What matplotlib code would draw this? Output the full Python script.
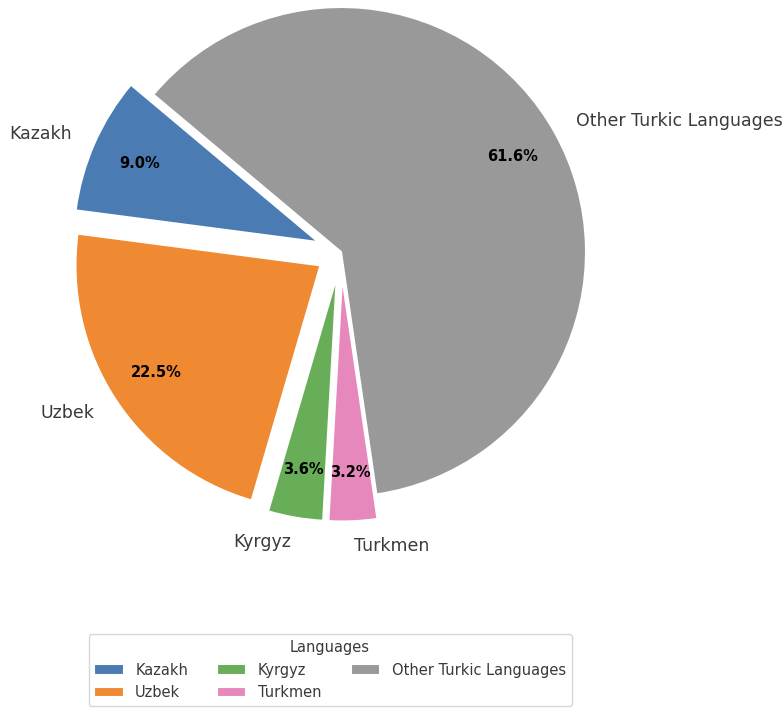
import matplotlib.pyplot as plt

plt.rcParams["font.family"] = ["DejaVu Sans"]

languages = ["Kazakh", "Uzbek", "Kyrgyz", "Turkmen", "Other Turkic Languages"]
shares = [9.04, 22.54, 3.64, 3.20, 61.58]
colors = ["#4a7bb3", "#ef8a33", "#68ad58", "#e788bd", "#999999"]
explode = [0.1, 0.1, 0.1, 0.1, 0]

fig = plt.figure(figsize=(7.83, 7.08), dpi=100)
ax = fig.add_axes([-2 / 783, 113 / 708, 686 / 783, 686 / 708])

wedges, texts, autotexts = ax.pie(
    shares,
    labels=languages,
    colors=colors,
    explode=explode,
    startangle=140,
    autopct="%1.1f%%",
    pctdistance=0.8,
    labeldistance=1.1,
    wedgeprops={"edgecolor": "white", "linewidth": 1.5},
    textprops={"fontsize": 12.5, "color": "#3a3a3a"},
)
for t in autotexts:
    t.set_color("black")
    t.set_fontsize(10.5)
    t.set_fontweight("bold")

ax.set_xlim(-1.4, 1.4)
ax.set_ylim(-1.4, 1.4)
ax.set_aspect("equal")
ax.axis("off")

leg = fig.legend(
    wedges, languages, title="Languages", loc="lower center",
    bbox_to_anchor=(330 / 783, -5 / 708), ncol=3, fontsize=10.5,
    title_fontsize=10.5, frameon=True,
)
for t in leg.get_texts():
    t.set_color("#3a3a3a")
leg.get_title().set_color("#3a3a3a")

fig.savefig("out.png", dpi=100)
